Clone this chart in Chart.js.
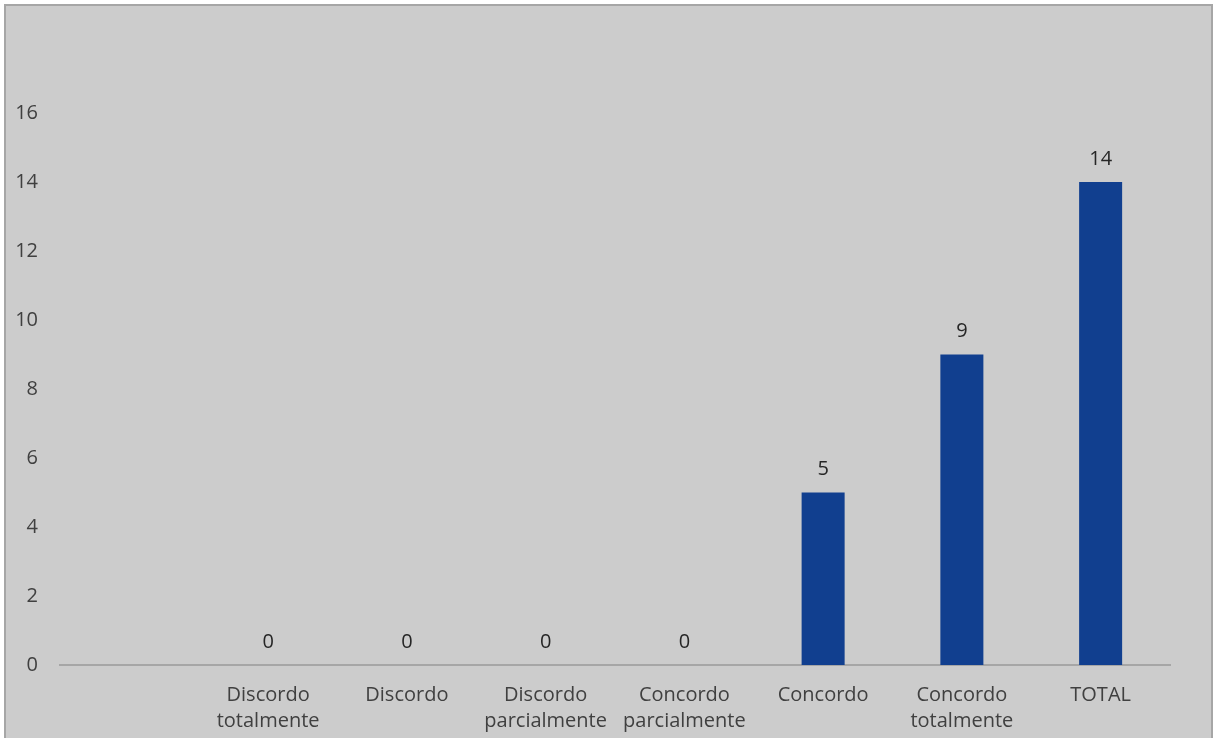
<!DOCTYPE html>
<html>
<head>
<meta charset="utf-8">
<script src="https://cdn.jsdelivr.net/npm/chart.js@4.4.1/dist/chart.umd.min.js"></script>
<style>
  html, body { margin: 0; padding: 0; background: #ffffff; }
  #wrap { position: relative; width: 1216px; height: 738px; }
</style>
</head>
<body>
<div id="wrap"><canvas id="barChart" width="1216" height="738"></canvas></div>
<script>
const categories = [
  "",
  ["Discordo", "totalmente"],
  "Discordo",
  ["Discordo", "parcialmente"],
  ["Concordo", "parcialmente"],
  "Concordo",
  ["Concordo", "totalmente"],
  "TOTAL"
];
const values = [null, 0, 0, 0, 0, 5, 9, 14];
const yTicks = [0, 2, 4, 6, 8, 10, 12, 14, 16];

const FONT = "'Open Sans', 'Noto Sans', sans-serif";

// grey panel with a thin border, like the spreadsheet chart area
const panelBg = {
  id: "panelBg",
  beforeDraw(chart) {
    const c = chart.ctx;
    c.save();
    c.fillStyle = "#ffffff";
    c.fillRect(0, 0, chart.width, chart.height);
    c.fillStyle = "#cccccc";
    c.fillRect(6, 6, chart.width - 11, chart.height);
    c.strokeStyle = "#a6a6a6";
    c.lineWidth = 2;
    c.strokeRect(5, 5, chart.width - 9, chart.height + 10);
    c.restore();
  }
};

// value labels above each bar
const valueLabels = {
  id: "valueLabels",
  afterDatasetsDraw(chart) {
    const c = chart.ctx;
    const meta = chart.getDatasetMeta(0);
    c.save();
    c.font = "20px " + FONT;
    c.fillStyle = "#262626";
    c.textAlign = "center";
    c.textBaseline = "middle";
    meta.data.forEach((bar, i) => {
      const v = values[i];
      if (v === null || v === undefined) return;
      c.fillText(String(v), bar.x, bar.y - 23);
    });
    c.restore();
  }
};

const ctx = document.getElementById("barChart").getContext("2d");
new Chart(ctx, {
  type: "bar",
  data: {
    labels: categories,
    datasets: [{
      data: values,
      backgroundColor: "#113f8f",
      borderWidth: 0,
      barPercentage: 0.31,
      categoryPercentage: 1
    }]
  },
  options: {
    responsive: false,
    animation: false,
    layout: { padding: { left: 10, right: 46, top: 113, bottom: 0 } },
    plugins: {
      legend: { display: false },
      tooltip: { enabled: false }
    },
    scales: {
      x: {
        grid: { display: false, drawTicks: false },
        border: { display: true, color: "#a6a6a6", width: 2 },
        ticks: {
          color: "#404040",
          font: { family: FONT, size: 20, lineHeight: 1.32 },
          padding: 17,
          maxRotation: 0,
          autoSkip: false
        },
        afterFit(scale) { scale.height = 73; }
      },
      y: {
        min: 0,
        max: 16,
        afterBuildTicks(scale) { scale.ticks = yTicks.map(v => ({ value: v })); },
        grid: { display: false, drawTicks: false },
        border: { display: false },
        ticks: {
          color: "#404040",
          font: { family: FONT, size: 20 },
          padding: 22
        },
        afterFit(scale) { scale.width = 50; }
      }
    }
  },
  plugins: [panelBg, valueLabels]
});
</script>
</body>
</html>
